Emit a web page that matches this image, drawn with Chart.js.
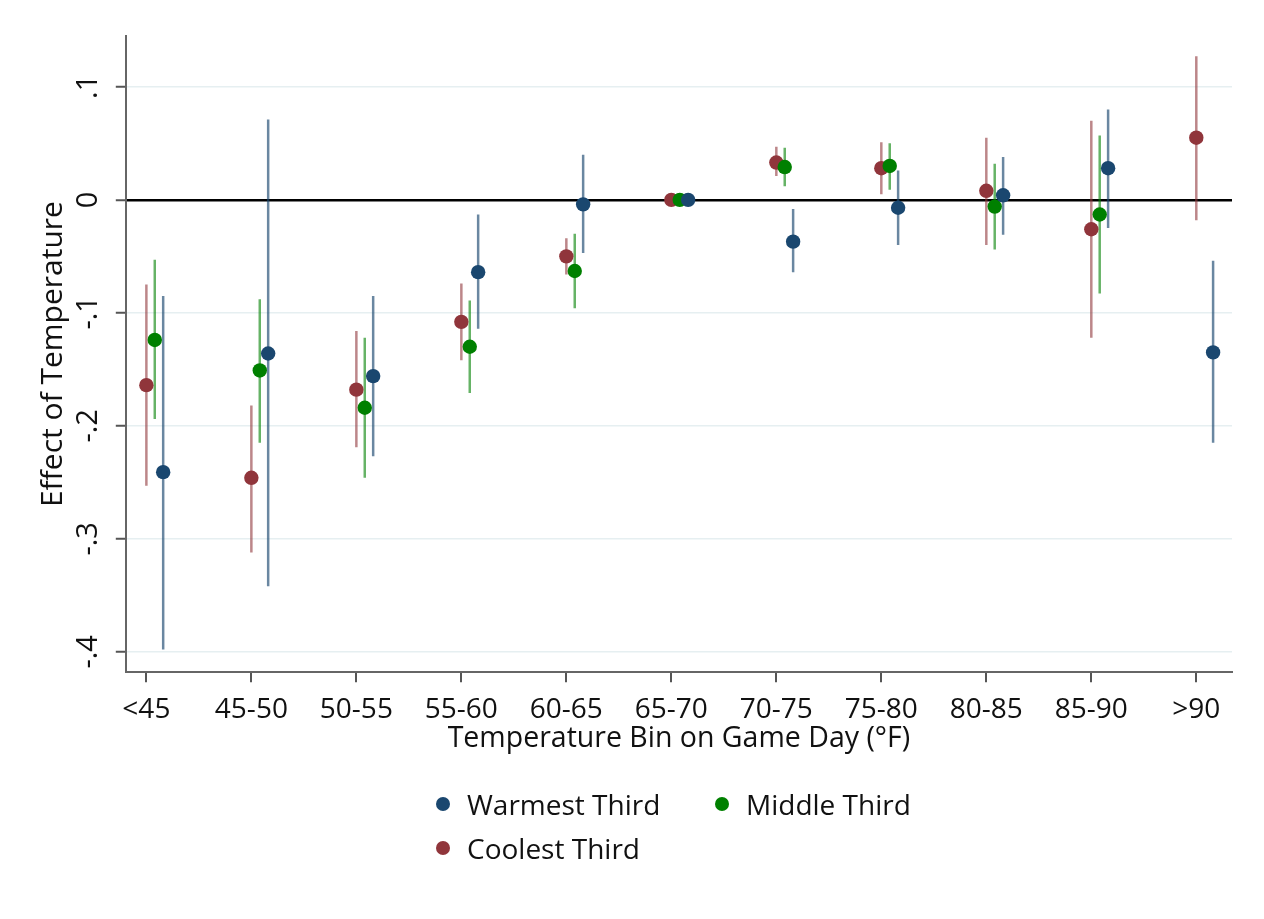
<!DOCTYPE html>
<html>
<head>
<meta charset="utf-8">
<script src="https://cdn.jsdelivr.net/npm/chart.js@4.4.1/dist/chart.umd.min.js"></script>
<style>
    html, body { margin: 0; padding: 0; background: #fff; }
    #marco { position: relative; width: 1264px; height: 919px; }
    #grafico { position: absolute; left: 0; top: 0; }
    #leyenda { position: absolute; left: 0; top: 0; width: 1264px; height: 919px; pointer-events: none;
               font-family: 'Open Sans', sans-serif; font-size: 28px; color: #111; }
    .item { position: absolute; display: flex; align-items: center; white-space: nowrap; transform: translateY(-50%); }
    .punto { width: 14px; height: 14px; border-radius: 50%; margin-right: 17px; }
</style>
</head>
<body>
<div id="marco">
    <canvas id="grafico" width="1264" height="919"></canvas>
    <div id="leyenda"></div>
</div>
<script>
// Categorias del eje x
const categorias = ['<45', '45-50', '50-55', '55-60', '60-65', '65-70', '70-75', '75-80', '80-85', '85-90', '>90'];

// Warmest Third
const calidoEst = [-0.241, -0.136, -0.156, -0.064, -0.004, 0, -0.037, -0.007, 0.004, 0.028, -0.135];
const calidoMin = [-0.398, -0.342, -0.227, -0.114, -0.047, 0, -0.064, -0.040, -0.031, -0.025, -0.215];
const calidoMax = [-0.085, 0.071, -0.085, -0.013, 0.040, 0, -0.008, 0.026, 0.038, 0.080, -0.054];

// Middle Third (sin dato en >90)
const medioEst = [-0.124, -0.151, -0.184, -0.130, -0.063, 0, 0.029, 0.030, -0.006, -0.013, null];
const medioMin = [-0.194, -0.215, -0.246, -0.171, -0.096, 0, 0.012, 0.009, -0.044, -0.083, null];
const medioMax = [-0.053, -0.088, -0.122, -0.089, -0.030, 0, 0.046, 0.050, 0.032, 0.057, null];

// Coolest Third
const frioEst = [-0.164, -0.246, -0.168, -0.108, -0.050, 0, 0.033, 0.028, 0.008, -0.026, 0.055];
const frioMin = [-0.253, -0.312, -0.219, -0.142, -0.066, 0, 0.021, 0.005, -0.040, -0.122, -0.018];
const frioMax = [-0.075, -0.182, -0.116, -0.074, -0.034, 0, 0.047, 0.051, 0.055, 0.070, 0.127];

// Ticks del eje y
const yTicks = [-0.4, -0.3, -0.2, -0.1, 0, 0.1];
const yTickLabels = ['-.4', '-.3', '-.2', '-.1', '0', '.1'];

const familia = "'Open Sans', sans-serif";
const colorTexto = '#111';

// desplazamiento horizontal de cada serie dentro de la categoria
const desplazamiento = { frio: 0, medio: 0.08, calido: 0.16 };

function puntos(est, off) {
    const res = [];
    est.forEach((v, i) => { if (v !== null) res.push({ x: i + off, y: v }); });
    return res;
}

// intervalos como segmentos separados por huecos (null)
function intervalos(lo, hi, off) {
    const res = [];
    lo.forEach((v, i) => {
        if (v === null) return;
        res.push({ x: i + off, y: v });
        res.push({ x: i + off, y: hi[i] });
        res.push({ x: i + off, y: null });
    });
    return res;
}

function serieIntervalo(lo, hi, off, color) {
    return {
        type: 'line', data: intervalos(lo, hi, off), borderColor: color, borderWidth: 2.5,
        pointRadius: 0, showLine: true, spanGaps: false, fill: false, order: 2
    };
}

function seriePuntos(label, est, off, color) {
    return {
        label: label, data: puntos(est, off), backgroundColor: color, borderColor: color,
        pointRadius: 7.2, pointBorderWidth: 0, showLine: false, order: 1
    };
}

const ctx = document.getElementById('grafico').getContext('2d');
const grafico = new Chart(ctx, {
    type: 'scatter',
    data: {
        datasets: [
            seriePuntos('Warmest Third', calidoEst, desplazamiento.calido, '#1a476f'),
            seriePuntos('Middle Third', medioEst, desplazamiento.medio, '#008000'),
            seriePuntos('Coolest Third', frioEst, desplazamiento.frio, '#90353b'),
            serieIntervalo(calidoMin, calidoMax, desplazamiento.calido, 'rgba(26,71,111,0.65)'),
            serieIntervalo(medioMin, medioMax, desplazamiento.medio, 'rgba(0,128,0,0.6)'),
            serieIntervalo(frioMin, frioMax, desplazamiento.frio, 'rgba(144,53,59,0.6)')
        ]
    },
    options: {
        responsive: false,
        animation: false,
        events: [],
        layout: { padding: { top: 36, right: 32, left: 46.5, bottom: 179 } },
        plugins: {
            legend: { display: false },
            tooltip: { enabled: false }
        },
        scales: {
            x: {
                type: 'linear',
                min: -0.196,
                max: 10.34,
                afterBuildTicks: (escala) => { escala.ticks = categorias.map((c, i) => ({ value: i })); },
                ticks: {
                    callback: (v, i) => categorias[i],
                    autoSkip: false, minRotation: 0, maxRotation: 0, padding: 13.5,
                    font: { family: familia, size: 28, lineHeight: 1 }, color: colorTexto
                },
                grid: { drawOnChartArea: false, drawTicks: true, tickLength: 10, color: '#555', lineWidth: 2 },
                border: { display: true, color: '#666', width: 2 },
                title: {
                    // titulo pegado a las etiquetas, como en Stata
                    display: true, text: 'Temperature Bin on Game Day (°F)',
                    font: { family: familia, size: 28.5, lineHeight: 0.1 }, color: colorTexto,
                    padding: { top: 0, bottom: 0 }
                }
            },
            y: {
                type: 'linear',
                min: -0.418,
                max: 0.145,
                afterBuildTicks: (escala) => { escala.ticks = yTicks.map(v => ({ value: v })); },
                ticks: {
                    callback: (v, i) => yTickLabels[i],
                    minRotation: 90, maxRotation: 90, crossAlign: 'center', padding: 10.5,
                    font: { family: familia, size: 29 }, color: colorTexto
                },
                grid: {
                    color: (c) => (c.tick && c.tick.value === 0) ? '#000' : '#e6eff1',
                    lineWidth: (c) => (c.tick && c.tick.value === 0) ? 2.5 : 1.5,
                    tickColor: '#555', tickWidth: 2, tickLength: 10
                },
                border: { display: true, color: '#666', width: 2 },
                title: {
                    display: true, text: 'Effect of Temperature',
                    font: { family: familia, size: 30, lineHeight: 0.45 }, color: colorTexto,
                    padding: { top: 0, bottom: 0 }
                }
            }
        }
    }
});

// Leyenda en dos columnas, como en la figura original
const posLeyenda = [{ x: 436, y: 804 }, { x: 715, y: 804 }, { x: 436, y: 848 }];
const leyenda = document.getElementById('leyenda');
grafico.data.datasets.filter(d => d.label).forEach((d, i) => {
    const item = document.createElement('div');
    item.classList.add('item');
    item.style.left = posLeyenda[i].x + 'px';
    item.style.top = posLeyenda[i].y + 'px';
    const punto = document.createElement('span');
    punto.classList.add('punto');
    punto.style.background = d.backgroundColor;
    const texto = document.createElement('span');
    texto.textContent = d.label;
    item.appendChild(punto);
    item.appendChild(texto);
    leyenda.appendChild(item);
});
</script>
</body>
</html>
